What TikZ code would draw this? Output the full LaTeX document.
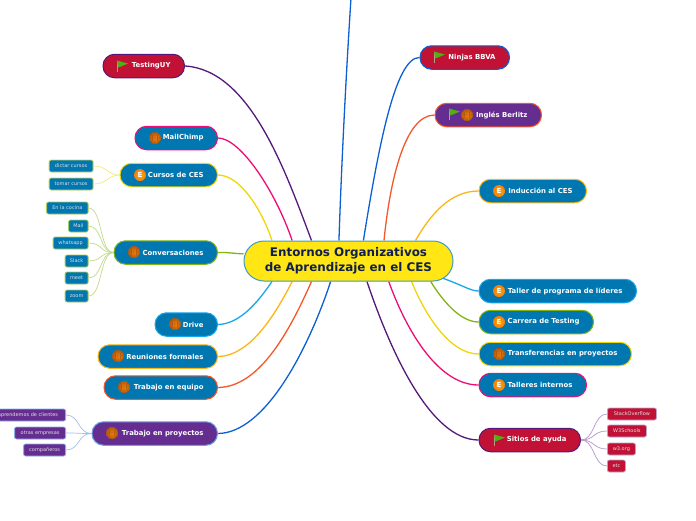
\documentclass[tikz,border=0pt]{standalone}
\usepackage{fontspec}
\setmainfont{DejaVu Sans}
\usetikzlibrary{backgrounds}
\definecolor{topicblue}{HTML}{0077B0}
\definecolor{topicred}{HTML}{C11235}
\definecolor{topicpurple}{HTML}{662D91}
\definecolor{coreyellow}{HTML}{FFE614}
\definecolor{coreedge}{HTML}{3E9BC4}
\definecolor{corenavy}{HTML}{0F2050}
\definecolor{linepurple}{HTML}{54187A}
\definecolor{linepink}{HTML}{F00C78}
\definecolor{lineyellow}{HTML}{EFD60A}
\definecolor{linegreen}{HTML}{82B414}
\definecolor{linesky}{HTML}{17A8EA}
\definecolor{lineamber}{HTML}{FDB515}
\definecolor{lineorange}{HTML}{F4572A}
\definecolor{lineblue}{HTML}{0D5FD2}
\definecolor{iconorange}{HTML}{F58A0B}
\definecolor{balldark}{HTML}{B5560F}
\definecolor{flaggreen}{HTML}{4FB012}
\tikzset{
  topic/.style={draw=#1, rounded corners=11.5pt, line width=1pt, minimum height=23.5pt,
    inner xsep=14pt, inner ysep=0pt, align=flush right, text=white,
    font=\fontsize{6.9}{8}\selectfont\bfseries},
  leaf/.style={draw=#1, rounded corners=2pt, line width=0.8pt, minimum height=12pt,
    inner sep=0pt, align=center, text=white!88!black,
    font=\fontsize{5}{6}\selectfont},
  link/.style={draw=#1, line width=1.3pt},
  twig/.style={draw=#1, line width=0.7pt},
  ball/.pic={
    \shade[inner color=iconorange, outer color=balldark] (0,0) circle (6);
    \draw[balldark!80!black, line width=0.25pt] (-6,0) -- (6,0) (0,-6) -- (0,6)
      (-4,-4.5) .. controls (-1.5,-2) and (-1.5,2) .. (-4,4.5)
      (4,-4.5) .. controls (1.5,-2) and (1.5,2) .. (4,4.5);
  },
  badge/.pic={
    \shade[inner color=iconorange!70!yellow, outer color=iconorange!90!red] (0,0) circle (6);
    \node[text=white, inner sep=0pt, font=\fontsize{7}{8}\selectfont\bfseries] (-badge) at (0,0) {E};
  },
  flag/.pic={
    \draw[black!30!brown!60!white, line width=0.7pt] (-5,-5.5) -- (-5,6);
    \fill[flaggreen] (-5,-5.5) -- (6,-2.5) -- (-3.5,1.5) -- cycle;
  },
}
\begin{document}
\begin{tikzpicture}[x=1pt,y=-1pt]
\useasboundingbox (0,0) rectangle (696,520);
\coordinate (offtop) at (351,-2);
\node[draw=coreedge, fill=coreyellow, rounded corners=20pt, line width=1pt, minimum width=209pt, minimum height=40pt,
      inner sep=0pt, align=center, text=corenavy, font=\fontsize{11.9}{15}\selectfont\bfseries] (central) at (348.5,261)
      {\raisebox{-1pt}{Entornos Organizativos}\\\raisebox{-1pt}{de Aprendizaje en el CES}};
% left topics
\node[topic=linepurple, fill=topicred, text width=53.5pt, anchor=east] (testing) at (185,66) {TestingUY};
\node[topic=linepink, fill=topicblue, text width=54.5pt, anchor=east] (mailchimp) at (218,138) {MailChimp};
\node[topic=lineyellow, fill=topicblue, text width=69.5pt, anchor=east] (cursos) at (218,175) {Cursos de CES};
\node[topic=linegreen, fill=topicblue, text width=75.5pt, anchor=east] (conversaciones) at (218,252.5) {Conversaciones};
\node[topic=linesky, fill=topicblue, text width=34.5pt, anchor=east] (drive) at (218,324.5) {Drive};
\node[topic=lineamber, fill=topicblue, text width=91.5pt, anchor=east] (reuniones) at (218,356.5) {Reuniones formales};
\node[topic=lineorange, fill=topicblue, text width=85.5pt, anchor=east] (equipo) at (218,387.5) {Trabajo en equipo};
\node[topic=lineblue!60!white, fill=topicpurple, text width=97.5pt, anchor=east] (proyectos) at (218,433.5) {Trabajo en proyectos};
% right topics
\node[topic=lineblue, fill=topicred, text width=61.5pt, anchor=west] (ninjas) at (419.5,57.5) {Ninjas BBVA};
\node[topic=lineorange, fill=topicpurple, text width=78.5pt, anchor=west] (ingles) at (434.5,115) {Inglés Berlitz};
\node[topic=lineamber, fill=topicblue, text width=79.5pt, anchor=west] (induccion) at (478.5,191) {Inducción al CES};
\node[topic=linesky, fill=topicblue, text width=129.5pt, anchor=west] (taller) at (478.5,291) {Taller de programa de líderes};
\node[topic=linegreen, fill=topicblue, text width=86.5pt, anchor=west] (carrera) at (478.5,322) {Carrera de Testing};
\node[topic=lineyellow, fill=topicblue, text width=124.5pt, anchor=west] (transferencias) at (478.5,354) {Transferencias en proyectos};
\node[topic=linepink, fill=topicblue, text width=79.5pt, anchor=west] (talleres) at (478.5,385) {Talleres internos};
\node[topic=linepurple, fill=topicred, text width=73.5pt, anchor=west] (sitios) at (478.5,440) {Sitios de ayuda};
% small ones
\foreach \name/\txt/\boxw/\ypos in {dictar/dictar cursos/44/166,tomar/tomar cursos/44/184}{
  \node[leaf=lineyellow!45!linegreen!70!white, fill=topicblue, minimum width=\boxw pt, anchor=east] (\name) at (93.5,\ypos) {\txt};
  \draw[twig=lineyellow!55!white] (\name.east) .. controls +(14,0) and +(-12,0) .. (cursos.west);
}
\foreach \name/\txt/\boxw/\ypos in {cocina/En la cocina/41.5/208,mail/Mail/19.5/226,whatsapp/whatsapp/35/243,slack/Slack/23/261,meet/meet/23/278,zoomapp/zoom/23/296}{
  \node[leaf=linegreen!70!white, fill=topicblue, minimum width=\boxw pt, anchor=east] (\name) at (88.5,\ypos) {\txt};
  \draw[twig=linegreen!50!white] (\name.east) .. controls +(14,0) and +(-14,0) .. (conversaciones.west);
}
\foreach \name/\txt/\boxw/\ypos in {clientes/emprendemos de clientes/80/415,empresas/otras empresas/51/433,companeros/compañeros/42/450}{
  \node[leaf=lineblue!50!white, fill=topicpurple, minimum width=\boxw pt, anchor=east] (\name) at (66,\ypos) {\txt};
  \draw[twig=lineblue!40!white] (\name.east) .. controls +(14,0) and +(-14,0) .. (proyectos.west);
}
\foreach \name/\txt/\boxw/\ypos in {stack/StackOverflow/49/414,schools/W3Schools/39/431,wthree/w3.org/28/449,etc/etc/18/466}{
  \node[leaf=topicpurple!45!white, fill=topicred, minimum width=\boxw pt, anchor=west] (\name) at (607,\ypos) {\txt};
  \draw[twig=topicpurple!50!white] (\name.west) .. controls +(-14,0) and +(14,0) .. (sitios.east);
}
% big curves
\begin{scope}[on background layer]
\draw[link=linepurple] (testing.east) .. controls (250,70) and (285,170) .. (central.151.3);
\draw[link=linepink] (mailchimp.east) .. controls (240,138) and (275,190) .. (central.160.2);
\draw[link=lineyellow] (cursos.east) .. controls (240,175) and (262,210) .. (central.165.2);
\draw[link=linegreen] (conversaciones.east) .. controls (228,252) and (236,254) .. (central.176.7);
\draw[link=lineblue] (offtop) .. controls (347,60) and (342,150) .. (central.115.4);
\draw[link=lineblue] (ninjas.west) .. controls (395,57) and (378,150) .. (central.54.1);
\draw[link=lineorange] (ingles.west) .. controls (405,115) and (390,180) .. (central.30.1);
\draw[link=lineamber] (induccion.west) .. controls (450,191) and (430,215) .. (central.17.7);
\draw[link=linesky] (drive.east) .. controls (240,324) and (258,302) .. (central.-165.7);
\draw[link=lineamber] (reuniones.east) .. controls (250,356) and (275,315) .. (central.-160.8);
\draw[link=lineorange] (equipo.east) .. controls (260,387) and (290,330) .. (central.-151.9);
\draw[link=lineblue] (proyectos.east) .. controls (265,433) and (308,350) .. (central.-131.2);
\draw[link=linepurple] (sitios.west) .. controls (430,440) and (390,350) .. (central.-48.8);
\draw[link=linepink] (talleres.west) .. controls (440,385) and (408,335) .. (central.-27.4);
\draw[link=lineyellow] (transferencias.west) .. controls (450,354) and (425,315) .. (central.-18.9);
\draw[link=linegreen] (carrera.west) .. controls (460,322) and (442,300) .. (central.-14.3);
\draw[link=linesky] (taller.west) .. controls (463,291) and (445,268) .. (central.center);
\end{scope}
% icons
\foreach \xpos/\ypos in {155/138,134/252,175/324,118/356,124/387,112/433,467/115,499/354}{
  \pic at (\xpos,\ypos) {ball};
}
\foreach \xpos/\ypos in {140/175,499/191,499/291,499/322,499/385}{
  \pic at (\xpos,\ypos) {badge};
}
\foreach \xpos/\ypos in {122/66,439/57,454/114,499/440}{
  \pic at (\xpos,\ypos) {flag};
}
\end{tikzpicture}
\end{document}
